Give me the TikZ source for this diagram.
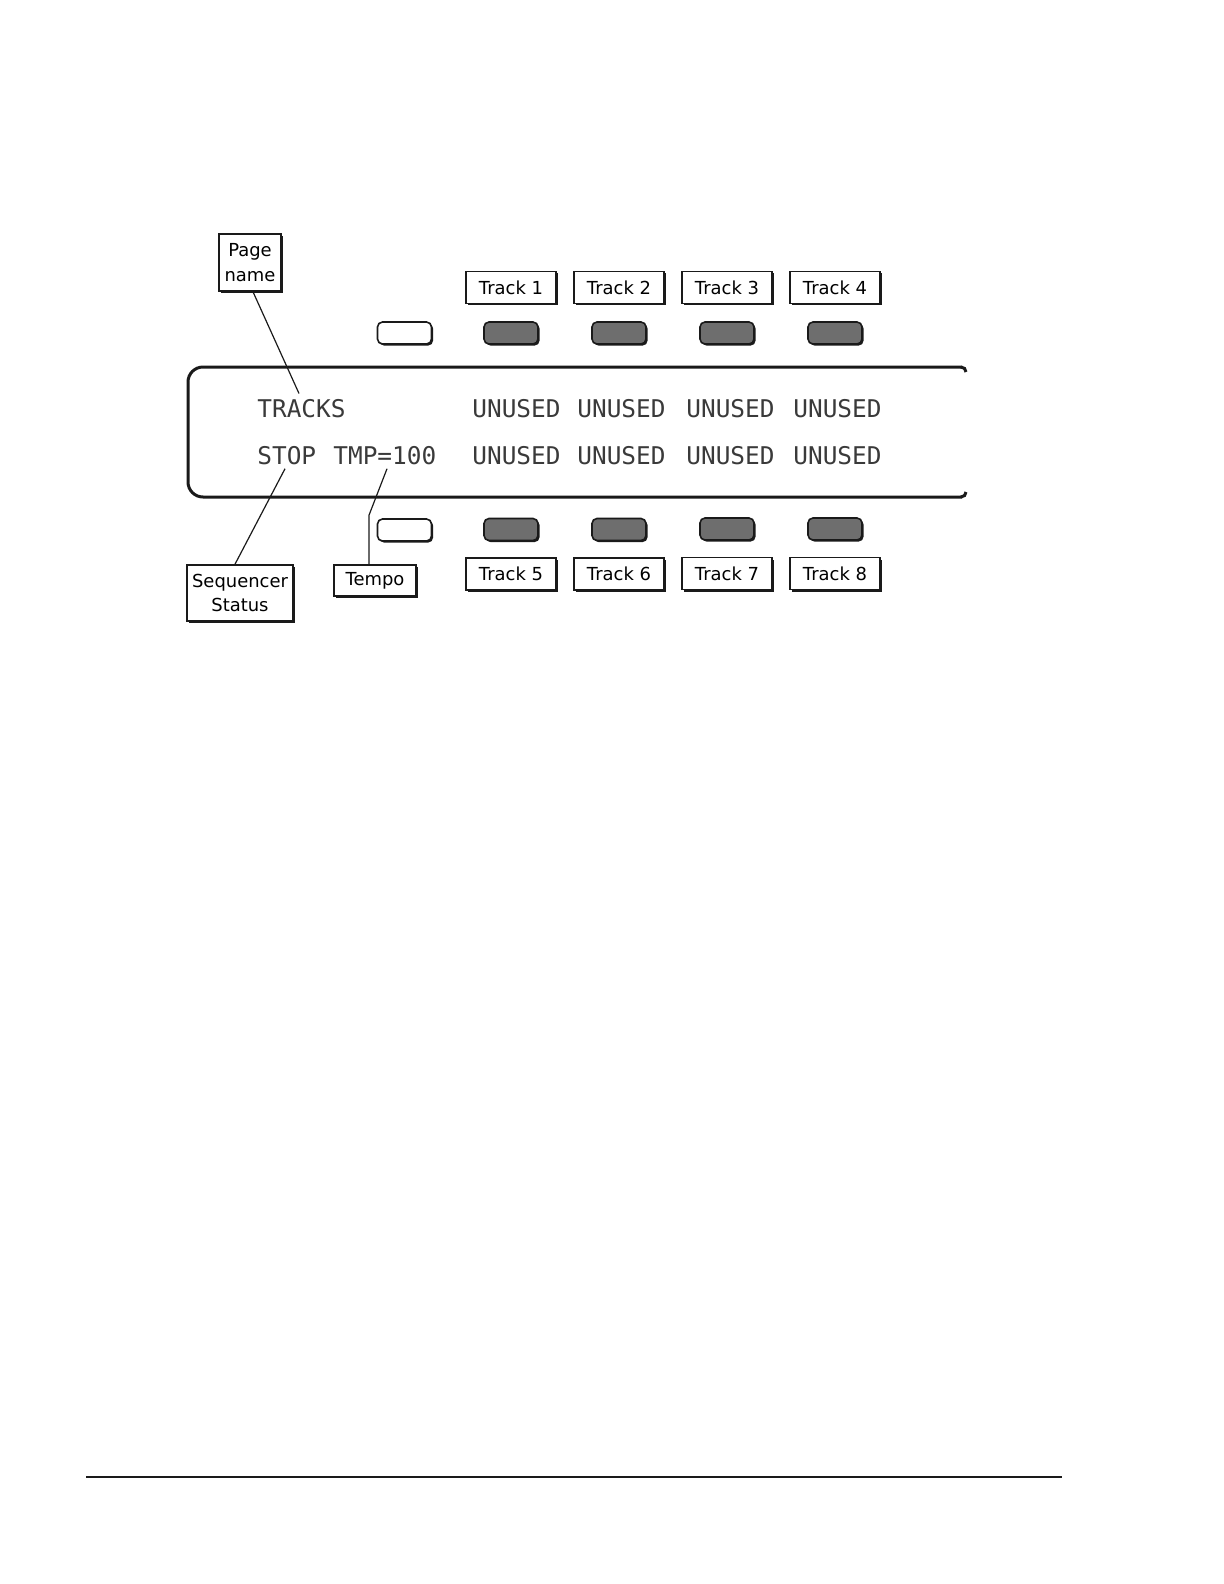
\documentclass[tikz,border=0pt]{standalone}
\usepackage{fontspec}
\usepackage{tikz}
\usetikzlibrary{positioning,shadows}
\newfontfamily\lcdfont{DejaVu Sans Mono}
\newfontfamily\tagfont{DejaVu Sans}
\definecolor{PanelInk}{HTML}{1A1A1A}
\definecolor{LcdInk}{HTML}{3A3A3A}
\definecolor{KeyGrey}{HTML}{6E6E6E}

\begin{document}
\begin{tikzpicture}[x=0.5bp,y=-0.5bp,
        tag/.style={draw=PanelInk,fill=white,line width=0.8bp,inner sep=0pt,align=center,
          minimum width=45bp,minimum height=16bp,font=\tagfont\fontsize{9}{12.5}\selectfont,
          general shadow={fill=PanelInk,shadow xshift=1bp,shadow yshift=-1bp}},
        key/.style={draw=PanelInk,line width=0.8bp,rounded corners=2.5bp,inner sep=0pt,
          minimum width=27bp,minimum height=11bp,
          general shadow={fill=PanelInk,shadow xshift=0.8bp,shadow yshift=-0.8bp}},
        lcd/.style={anchor=base west,inner sep=0pt,text=LcdInk,font=\lcdfont\fontsize{12.25}{14}\selectfont},
        lead/.style={PanelInk,line width=0.6bp}
      ]
        \useasboundingbox (0,0) rectangle (1224,1584);
        % display window, right side runs off
        \draw[PanelInk,line width=1.5bp,rounded corners=7.5bp] (962,367) -- (188,367) -- (188,497) -- (962,497);
        \draw[PanelInk,line width=1.5bp] (961,367) to[out=0,in=90] (966,372);
        \draw[PanelInk,line width=1.5bp] (961,497) to[out=0,in=-90] (966,492);
        % display text
        \node[lcd] (tracks) at (257,417) {TRACKS};
        \node[lcd] (stop) at (257,464) {STOP};
        \node[lcd] (tmp) at (333,464) {TMP=100};
        \node[lcd] (u1) at (472,417) {UNUSED};
        \node[lcd] (u2) at (577,417) {UNUSED};
        \node[lcd] (u3) at (686,417) {UNUSED};
        \node[lcd] (u4) at (793,417) {UNUSED};
        \node[lcd] (u5) at (472,464) {UNUSED};
        \node[lcd] (u6) at (577,464) {UNUSED};
        \node[lcd] (u7) at (686,464) {UNUSED};
        \node[lcd] (u8) at (793,464) {UNUSED};
        % keys above and below the window
        \node[key,fill=white] (kt0) at (404.5,333) {};
        \node[key,fill=KeyGrey] (kt1) at (511,333) {};
        \node[key,fill=KeyGrey] (kt2) at (619,333) {};
        \node[key,fill=KeyGrey] (kt3) at (727,333) {};
        \node[key,fill=KeyGrey] (kt4) at (835,333) {};
        \node[key,fill=white] (kb0) at (404.5,530) {};
        \node[key,fill=KeyGrey] (kb1) at (511,529.5) {};
        \node[key,fill=KeyGrey] (kb2) at (619,529.5) {};
        \node[key,fill=KeyGrey] (kb3) at (727,529) {};
        \node[key,fill=KeyGrey] (kb4) at (835,529) {};
        % track labels
        \node[tag,above=8.5bp of kt1] (trk1) {Track 1};
        \node[tag,above=8.5bp of kt2] (trk2) {Track 2};
        \node[tag,above=8.5bp of kt3] (trk3) {Track 3};
        \node[tag,above=8.5bp of kt4] (trk4) {Track 4};
        \node[tag,below=8bp of kb1] (trk5) {Track 5};
        \node[tag,below=8bp of kb2] (trk6) {Track 6};
        \node[tag,below=8bp of kb3] (trk7) {Track 7};
        \node[tag,below=8bp of kb4] (trk8) {Track 8};
        % callouts
        \node[tag,minimum width=31bp,minimum height=28.5bp] (pagename) at (250,262.5) {Page\\name};
        \node[tag,minimum width=53bp,minimum height=28bp] (seqstat) at (240,593) {Sequencer\\Status};
        \node[tag,minimum width=41bp,minimum height=15.5bp] (tempo) at (375,580.5) {Tempo};
        \draw[lead] ([xshift=1.5bp]pagename.south) -- ([shift={(42,-5)}]tracks.north west);
        \draw[lead] ([xshift=-2.5bp]seqstat.north) -- ([shift={(28,4)}]stop.south west);
        \draw[lead] ([xshift=-3bp]tempo.north) -- ++(0,-49) -- ([shift={(54,4)}]tmp.south west);
        % page rule
        \draw[PanelInk,line width=1bp] (86,1477) -- (1062,1477);
      \end{tikzpicture}
\end{document}
